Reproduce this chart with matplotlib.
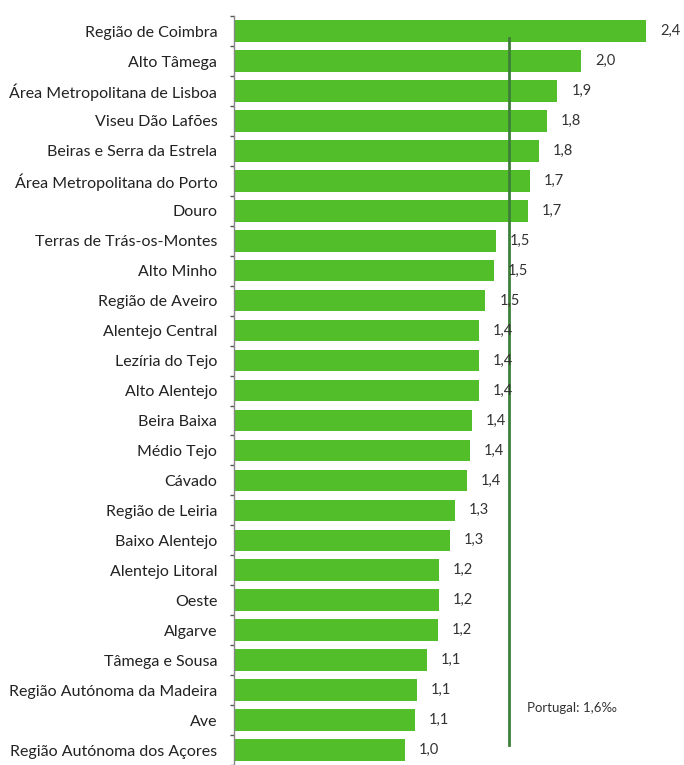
import matplotlib
matplotlib.use('Agg')
import matplotlib.pyplot as plt
import numpy as np

matplotlib.rcParams['font.family'] = ['Lato', 'DejaVu Sans']

# ── Dados ──
regioes = [
    'Região de Coimbra', 'Alto Tâmega', 'Área Metropolitana de Lisboa',
    'Viseu Dão Lafões', 'Beiras e Serra da Estrela', 'Área Metropolitana do Porto',
    'Douro', 'Terras de Trás-os-Montes', 'Alto Minho', 'Região de Aveiro',
    'Alentejo Central', 'Lezíria do Tejo', 'Alto Alentejo', 'Beira Baixa',
    'Médio Tejo', 'Cávado', 'Região de Leiria', 'Baixo Alentejo',
    'Alentejo Litoral', 'Oeste', 'Algarve', 'Tâmega e Sousa',
    'Região Autónoma da Madeira', 'Ave', 'Região Autónoma dos Açores',
]
valores = [2.41, 2.03, 1.89, 1.83, 1.78, 1.73, 1.72, 1.53, 1.52, 1.47,
           1.43, 1.43, 1.43, 1.39, 1.38, 1.36, 1.29, 1.26, 1.20, 1.20,
           1.19, 1.13, 1.07, 1.06, 1.00]
portugal = 1.61

cor_barra = '#52BE2A'
cor_linha = '#3E7F3A'

fig = plt.figure(figsize=(6.84, 7.65), dpi=100)
ax = fig.add_axes([0.342, 0.0, 0.658, 0.979])

y = np.arange(len(regioes))
ax.barh(y, valores, height=0.72, color=cor_barra, zorder=2)

# linha de referência Portugal
ax.axvline(portugal, ymin=0.027, ymax=0.971, color=cor_linha, linewidth=2, zorder=3)
ax.text(1.71, 22.6, 'Portugal: 1,6‰', fontsize=9.5, color='#333333', va='center')

# rótulos dos valores
for yi, v in zip(y, valores):
    ax.annotate(f'{v:.1f}'.replace('.', ','), xy=(v, yi), xytext=(10, 0),
                textcoords='offset points', va='center', ha='left',
                fontsize=10.5, color='#333333', zorder=4)

ax.set_ylim(len(regioes) - 0.5, -0.5)
ax.set_xlim(0, 2.63)
ax.set_yticks(y)
ax.set_yticklabels(regioes, fontsize=11.5, color='#222222')
ax.tick_params(axis='y', which='major', length=0, pad=12)
ax.set_yticks(np.arange(len(regioes) + 1) - 0.5, minor=True)
ax.tick_params(axis='y', which='minor', length=3, width=1, color='#555555')
ax.set_xticks([])

for s in ['top', 'right', 'bottom']:
    ax.spines[s].set_visible(False)
ax.spines['left'].set_color('#888888')
ax.spines['left'].set_linewidth(1)

plt.savefig('out.png', dpi=100)
